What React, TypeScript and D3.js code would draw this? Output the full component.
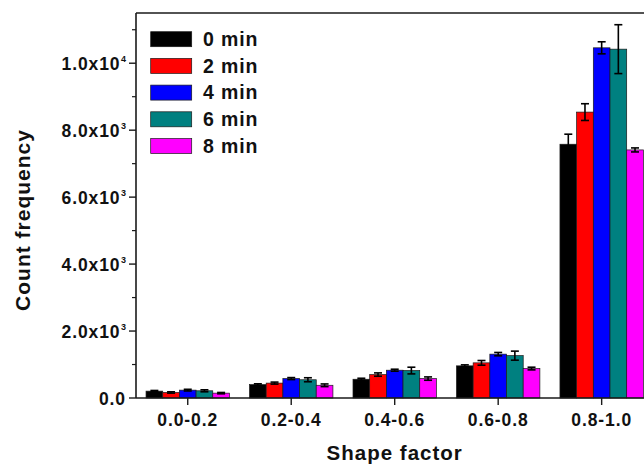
import React from "react";
import * as d3 from "d3";

const categories = ["0.0-0.2", "0.2-0.4", "0.4-0.6", "0.6-0.8", "0.8-1.0"];
const seriesNames = ["0 min", "2 min", "4 min", "6 min", "8 min"];
const seriesColors = ["#000000", "#ff0000", "#0000ff", "#008080", "#ff00ff"];

const min0 = [205, 400, 560, 960, 7580];
const min2 = [165, 445, 700, 1050, 8540];
const min4 = [235, 580, 830, 1310, 10460];
const min6 = [215, 545, 820, 1265, 10420];
const min8 = [145, 380, 580, 880, 7410];

const err0 = [20, 25, 30, 30, 300];
const err2 = [20, 30, 50, 70, 250];
const err4 = [25, 30, 30, 50, 180];
const err6 = [30, 60, 100, 135, 730];
const err8 = [20, 40, 50, 40, 60];

const majorTicks = [0, 2000, 4000, 6000, 8000, 10000];
const majorMant = ["0.0", "2.0x10", "4.0x10", "6.0x10", "8.0x10", "1.0x10"];
const majorExp = ["", "3", "3", "3", "3", "4"];
const minorTicks = [1000, 3000, 5000, 7000, 9000, 11000];

const values = [min0, min2, min4, min6, min8];
const errors = [err0, err2, err4, err6, err8];

const W = 644;
const H = 467;
const left = 136;
const right = 653.4;
const top = 13;
const bottom = 398;
const FONT = "'Liberation Sans', Arial, sans-serif";

export default function App() {
  const x = d3
    .scaleBand<string>()
    .domain(categories)
    .range([left, right])
    .paddingInner(0.194)
    .paddingOuter(0.097);
  const x1 = d3
    .scaleBand<string>()
    .domain(seriesNames)
    .range([0, x.bandwidth()])
    .padding(0);
  const y = d3.scaleLinear().domain([0, 11500]).range([bottom, top]);

  const capW = 8;

  return (
    <svg
      width={W}
      height={H}
      style={{ position: "fixed", left: 0, top: 0, background: "#fff" }}
      fontFamily={FONT}
      fontWeight="bold"
    >
      <rect x={0} y={0} width={W} height={H} fill="#fff" />
      {/* bars */}
      {categories.map((c, ci) => (
        <g key={c}>
          {seriesNames.map((s, si) => {
            const v = values[si][ci];
            const bx = (x(c) as number) + (x1(s) as number);
            const bw = x1.bandwidth();
            return (
              <rect
                key={s}
                x={bx}
                y={y(v)}
                width={bw}
                height={y(0) - y(v)}
                fill={seriesColors[si]}
                stroke="#1a1a1a"
                strokeWidth={0.7}
              />
            );
          })}
        </g>
      ))}
      {/* error bars */}
      {categories.map((c, ci) => (
        <g key={"e" + c} stroke="#000" strokeWidth={1.6}>
          {seriesNames.map((s, si) => {
            const v = values[si][ci];
            const e = errors[si][ci];
            const cx = (x(c) as number) + (x1(s) as number) + x1.bandwidth() / 2;
            const y1 = y(v + e);
            const y2 = y(Math.max(0, v - e));
            return (
              <g key={s}>
                <line x1={cx} x2={cx} y1={y1} y2={y2} />
                <line x1={cx - capW / 2} x2={cx + capW / 2} y1={y1} y2={y1} />
                <line x1={cx - capW / 2} x2={cx + capW / 2} y1={y2} y2={y2} />
              </g>
            );
          })}
        </g>
      ))}
      {/* frame */}
      <line x1={left} x2={W} y1={top} y2={top} stroke="#1a1a1a" strokeWidth={1.6} />
      <line x1={left} x2={left} y1={top} y2={bottom} stroke="#1a1a1a" strokeWidth={1.6} />
      <line x1={left} x2={W} y1={bottom} y2={bottom} stroke="#1a1a1a" strokeWidth={1.6} />
      {/* y ticks */}
      {majorTicks.map((t, i) => (
        <g key={"yt" + t}>
          <line x1={left - 7} x2={left} y1={y(t)} y2={y(t)} stroke="#1a1a1a" strokeWidth={1.4} />
          <text
            x={majorExp[i] ? 120.5 : 126}
            y={y(t) + 6.5}
            textAnchor="end"
            fontSize={17.5}
            letterSpacing={0.9}
            fill="#111"
          >
            {majorMant[i]}
          </text>
          {majorExp[i] && (
            <text x={121} y={y(t) - 1.5} fontSize={9} fill="#111">
              {majorExp[i]}
            </text>
          )}
        </g>
      ))}
      {minorTicks.map((t) => (
        <line key={"mt" + t} x1={left - 4} x2={left} y1={y(t)} y2={y(t)} stroke="#1a1a1a" strokeWidth={1.2} />
      ))}
      {/* x ticks */}
      {categories.map((c) => {
        const cx = (x(c) as number) + x.bandwidth() / 2;
        return (
          <g key={"xt" + c}>
            <line x1={cx} x2={cx} y1={bottom} y2={bottom + 7} stroke="#1a1a1a" strokeWidth={1.4} />
            <text x={cx} y={425.7} textAnchor="middle" fontSize={17.5} letterSpacing={0.9} fill="#111">
              {c}
            </text>
          </g>
        );
      })}
      {/* axis titles */}
      <text x={(left + right) / 2} y={460} textAnchor="middle" fontSize={20.5} letterSpacing={1} fill="#111">
        Shape factor
      </text>
      <text
        transform={`translate(30,220) rotate(-90)`}
        textAnchor="middle"
        fontSize={21}
        letterSpacing={1}
        fill="#111"
      >
        Count frequency
      </text>
      {/* legend */}
      {seriesNames.map((s, i) => (
        <g key={"lg" + s}>
          <rect
            x={150.7}
            y={31.7 + 26.7 * i}
            width={41}
            height={15}
            fill={seriesColors[i]}
            stroke="#1a1a1a"
            strokeWidth={0.7}
          />
          <text x={203} y={45.9 + 26.7 * i} fontSize={19.5} letterSpacing={0.9} fill="#111">
            {s}
          </text>
        </g>
      ))}
    </svg>
  );
}
